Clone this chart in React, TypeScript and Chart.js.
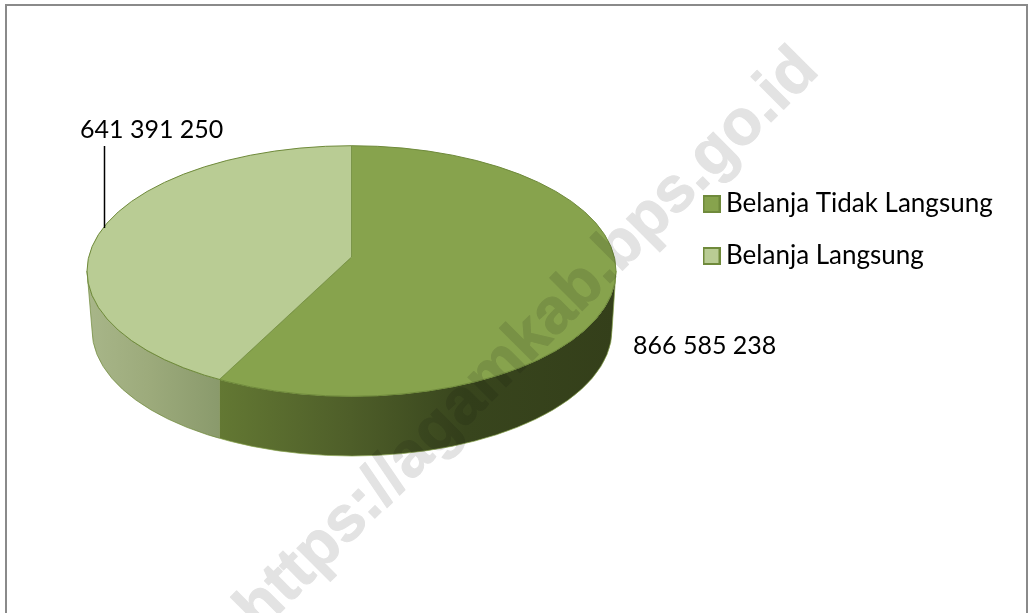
import React, { useEffect, useRef } from "react";
import { Chart, registerables } from "chart.js";

Chart.register(...registerables);

const categories = ["Belanja Tidak Langsung", "Belanja Langsung"];
const values = [866585238, 641391250];
const sliceColors = ["#87A34D", "#B9CC94"];
const edgeColor = "#6F8A3B";
const watermark = "https://agamkab.bps.go.id";
const fontFamily = "Lato, Carlito, sans-serif";

const TOP = { cx: 351.5, cy: 271, rx: 264.5, ry: 125.3 };
const LOW = { cx: 352, cy: 330, rx: 260, ry: 126 };
const SQUASH = 0.47;

const fmt = (v: number) => String(v).replace(/\B(?=(\d{3})+$)/g, " ");

function swatch(color: string) {
  const c = document.createElement("canvas");
  c.width = 18;
  c.height = 18;
  const g = c.getContext("2d")!;
  g.fillStyle = color;
  g.fillRect(0, 0, 18, 18);
  g.strokeStyle = edgeColor;
  g.lineWidth = 2;
  g.strokeRect(1, 1, 16, 16);
  return c;
}

const pie3d = {
  id: "pie3d",
  afterLayout(chart: any) {
    const l = chart.legend;
    const h = l.height;
    const w = l.width;
    l.left = 684;
    l.top = 165;
    l.right = Math.min(l.left + w + 40, chart.width);
    l.bottom = l.top + h + 10;
  },
  beforeDraw(chart: any) {
    const { ctx, width, height } = chart;
    ctx.save();
    ctx.fillStyle = "#fff";
    ctx.fillRect(0, 0, width, height);
    ctx.strokeStyle = "#8A8A8A";
    ctx.lineWidth = 2;
    ctx.strokeRect(6, 5, width - 7, height + 20);
    ctx.restore();
  },
  beforeDatasetsDraw(chart: any) {
    const { ctx } = chart;
    const arcs = chart.getDatasetMeta(0).data;
    const ax = arcs[0].x;
    const ay = arcs[0].y;
    const a = arcs[1].startAngle;
    const dx = Math.cos(a);
    const dy = Math.sin(a) * SQUASH;
    const px = (ax - TOP.cx) / TOP.rx;
    const py = (ay - TOP.cy) / TOP.ry;
    const qx = dx / TOP.rx;
    const qy = dy / TOP.ry;
    const A = qx * qx + qy * qy;
    const B = 2 * (px * qx + py * qy);
    const C = px * px + py * py - 1;
    const t = (-B + Math.sqrt(B * B - 4 * A * C)) / (2 * A);
    const split = ax + dx * t;

    const wall = () => {
      ctx.beginPath();
      ctx.ellipse(TOP.cx, TOP.cy, TOP.rx, TOP.ry, 0, 0, Math.PI);
      ctx.ellipse(LOW.cx, LOW.cy, LOW.rx, LOW.ry, 0, Math.PI, 0, true);
      ctx.closePath();
    };
    const gl = ctx.createLinearGradient(TOP.cx - TOP.rx, 0, split, 0);
    gl.addColorStop(0, "#A8B689");
    gl.addColorStop(0.45, "#9DAB7C");
    gl.addColorStop(1, "#8A9A6C");
    const gr = ctx.createLinearGradient(split, 0, TOP.cx + TOP.rx, 0);
    gr.addColorStop(0, "#637833");
    gr.addColorStop(0.33, "#4E5E29");
    gr.addColorStop(0.62, "#38451D");
    gr.addColorStop(1, "#343F1A");

    ctx.save();
    ctx.beginPath();
    ctx.rect(0, 0, split, chart.height);
    ctx.clip();
    wall();
    ctx.fillStyle = gl;
    ctx.fill();
    ctx.strokeStyle = "rgba(111,138,59,0.7)";
    ctx.lineWidth = 1;
    ctx.stroke();
    ctx.restore();

    ctx.save();
    ctx.beginPath();
    ctx.rect(split, 0, chart.width - split, chart.height);
    ctx.clip();
    wall();
    ctx.fillStyle = gr;
    ctx.fill();
    ctx.strokeStyle = "rgba(135,163,77,0.7)";
    ctx.lineWidth = 1;
    ctx.stroke();
    ctx.restore();

    ctx.save();
    ctx.beginPath();
    ctx.ellipse(TOP.cx, TOP.cy, TOP.rx, TOP.ry, 0, 0, Math.PI * 2);
    ctx.clip();
    ctx.translate(ax, ay);
    ctx.scale(1, SQUASH);
    ctx.translate(-ax, -ay);
  },
  afterDatasetsDraw(chart: any) {
    const { ctx } = chart;
    ctx.restore();
    ctx.save();
    ctx.beginPath();
    ctx.ellipse(TOP.cx, TOP.cy, TOP.rx, TOP.ry, 0, 0, Math.PI * 2);
    ctx.strokeStyle = edgeColor;
    ctx.lineWidth = 1;
    ctx.stroke();

    ctx.strokeStyle = "#000";
    ctx.lineWidth = 1.5;
    ctx.beginPath();
    ctx.moveTo(104.5, 146);
    ctx.lineTo(104.5, 228);
    ctx.stroke();

    ctx.fillStyle = "#000";
    ctx.font = `25px ${fontFamily}`;
    ctx.textBaseline = "alphabetic";
    ctx.fillText(fmt(values[1]), 80, 138);
    ctx.fillText(fmt(values[0]), 633, 354);
    ctx.restore();
  },
  afterDraw(chart: any) {
    const { ctx, width, height } = chart;
    const off = document.createElement("canvas");
    off.width = width;
    off.height = height;
    const g = off.getContext("2d")!;
    g.translate(260, 633);
    g.rotate(-Math.PI / 4);
    g.font = "bold 64px 'Liberation Sans', Arial, sans-serif";
    g.fillStyle = "#E3E3E3";
    g.strokeStyle = "#E3E3E3";
    g.lineWidth = 1;
    g.lineJoin = "round";
    g.textBaseline = "alphabetic";
    g.strokeText(watermark, 0, 0);
    g.fillText(watermark, 0, 0);
    ctx.save();
    ctx.globalCompositeOperation = "multiply";
    ctx.drawImage(off, 0, 0);
    ctx.restore();
  },
};

export default function App() {
  const ref = useRef<HTMLCanvasElement>(null);
  useEffect(() => {
    document.body.style.margin = "0";
    const chart = new Chart(ref.current!, {
      type: "pie",
      data: {
        labels: categories,
        datasets: [
          {
            data: values,
            backgroundColor: sliceColors,
            borderColor: edgeColor,
            borderWidth: 1,
            clip: false,
            pointStyle: sliceColors.map(swatch),
          } as any,
        ],
      },
      options: {
        responsive: false,
        animation: false,
        radius: 520,
        layout: { padding: { left: 0, top: 0, right: 325, bottom: 99 } },
        plugins: {
          tooltip: { enabled: false },
          legend: {
            position: "chartArea",
            align: "start",
            labels: {
              color: "#000",
              font: { family: fontFamily, size: 26 },
              usePointStyle: true,
              pointStyleWidth: 3,
              boxHeight: 18,
              padding: 26,
              generateLabels: (c: any) =>
                categories.map((text, i) => ({
                  text,
                  fillStyle: sliceColors[i],
                  strokeStyle: edgeColor,
                  lineWidth: 1,
                  pointStyle: c.data.datasets[0].pointStyle[i],
                  index: i,
                  hidden: false,
                })),
            },
          },
        },
      } as any,
      plugins: [pie3d],
    });
    return () => chart.destroy();
  }, []);
  return <canvas ref={ref} width={1028} height={613} style={{ display: "block" }} />;
}
